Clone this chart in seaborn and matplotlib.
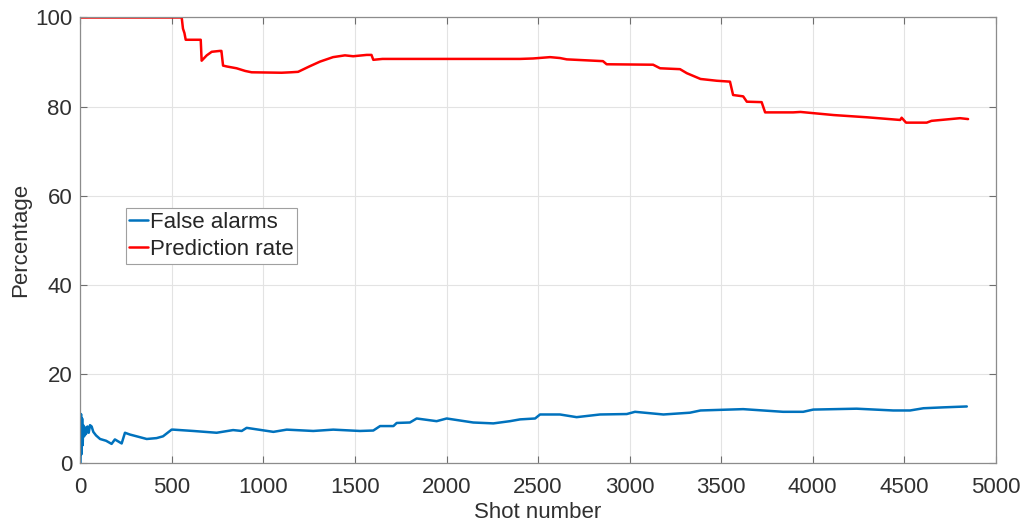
import matplotlib
matplotlib.use("Agg")
import matplotlib.pyplot as plt
import seaborn as sns
import pandas as pd

# Prediction rate (red)
pred_shot = [0, 553, 560, 568, 575, 657, 662, 690, 717, 762, 770, 779, 800, 853, 900, 935,
             1099, 1150, 1189, 1250, 1309, 1380, 1445, 1490, 1564, 1590, 1600, 1650, 2402,
             2473, 2566, 2620, 2657, 2855, 2875, 3129, 3167, 3276, 3313, 3388, 3477, 3549,
             3566, 3621, 3641, 3722, 3741, 3894, 3934, 4116, 4298, 4479, 4487, 4511, 4624,
             4650, 4806, 4850]
pred_rate = [100, 100, 97.5, 96.5, 95, 95, 90.3, 91.5, 92.3, 92.5, 92.5, 89.2, 89.0, 88.6, 88.0, 87.7,
             87.6, 87.7, 87.8, 89.0, 90.1, 91.1, 91.5, 91.3, 91.6, 91.6, 90.5, 90.7, 90.7,
             90.8, 91.1, 90.9, 90.6, 90.2, 89.5, 89.4, 88.6, 88.4, 87.5, 86.2, 85.8, 85.6,
             82.6, 82.3, 81.1, 81.0, 78.7, 78.7, 78.8, 78.1, 77.6, 77.0, 77.5, 76.4, 76.4,
             76.8, 77.4, 77.2]

# False alarms (blue)
fa_shot = [0, 3, 6, 9, 12, 15, 20, 25, 30, 38, 45, 52, 61, 70, 85, 107, 140, 170, 188, 225,
           243, 270, 362, 416, 451, 498, 507, 616, 744, 834, 881, 908, 1054, 1127, 1272,
           1381, 1527, 1600, 1637, 1710, 1728, 1800, 1837, 1946, 2001, 2146, 2256, 2347,
           2402, 2484, 2511, 2620, 2711, 2839, 2985, 3030, 3185, 3330, 3388, 3621, 3839,
           3949, 4004, 4241, 4441, 4533, 4606, 4715, 4843]
fa_rate = [0, 11, 2, 10, 4, 8.5, 6, 8, 6.5, 8.2, 6.8, 8.5, 8.2, 7, 6.2, 5.4, 5, 4.3, 5.3, 4.4,
           6.8, 6.4, 5.4, 5.6, 6.0, 7.5, 7.5, 7.2, 6.8, 7.4, 7.2, 7.9, 7.0, 7.5, 7.2,
           7.5, 7.2, 7.3, 8.3, 8.3, 9.0, 9.1, 10.0, 9.4, 10.0, 9.1, 8.9, 9.4,
           9.8, 10.0, 10.9, 10.9, 10.3, 10.9, 11.0, 11.5, 10.9, 11.3, 11.8, 12.1, 11.5,
           11.5, 12.0, 12.2, 11.8, 11.8, 12.3, 12.5, 12.7]

x_ticks = [0, 500, 1000, 1500, 2000, 2500, 3000, 3500, 4000, 4500, 5000]
y_ticks = [0, 20, 40, 60, 80, 100]

sns.set_style("white")
plt.rcParams['font.family'] = ['Liberation Sans', 'DejaVu Sans']

fig = plt.figure(figsize=(10.24, 5.25), dpi=100)
ax = fig.add_axes([0.0786, 0.118, 0.8936, 0.8487])

df_fa = pd.DataFrame({"shot": fa_shot, "rate": fa_rate})
df_pr = pd.DataFrame({"shot": pred_shot, "rate": pred_rate})

sns.lineplot(data=df_fa, x="shot", y="rate", estimator=None, sort=False,
             color="#0072BD", lw=1.8, label="False alarms", ax=ax)
sns.lineplot(data=df_pr, x="shot", y="rate", estimator=None, sort=False,
             color="#FF0000", lw=1.8, label="Prediction rate", ax=ax)

ax.set_xlim(0, 5000)
ax.set_ylim(0, 100)
ax.set_xticks(x_ticks)
ax.set_yticks(y_ticks)
ax.grid(True, color="#E3E3E3", lw=0.8)
ax.set_axisbelow(True)
for s in ax.spines.values():
    s.set_visible(True)
    s.set_color("#8C8C8C")
    s.set_linewidth(0.9)
ax.tick_params(direction="in", length=5, width=0.8, color="#6E6E6E",
               top=True, right=True, bottom=True, left=True,
               labelsize=16, labelcolor="#303030")
ax.tick_params(axis="x", pad=10)
ax.tick_params(axis="y", pad=6)
ax.set_xlabel("Shot number", fontsize=16, color="#303030", labelpad=3)
ax.set_ylabel("Percentage", fontsize=16, color="#303030", labelpad=3)

leg = ax.legend(loc="upper left", bbox_to_anchor=(0.0497, 0.572), borderaxespad=0,
                fontsize=16, handlelength=0.85, handletextpad=0.1,
                labelspacing=0.3, borderpad=0.15, fancybox=False, framealpha=1)
leg.get_frame().set_edgecolor("#A0A0A0")
leg.get_frame().set_linewidth(0.8)
for t in leg.get_texts():
    t.set_color("#262626")

fig.savefig("out.png", dpi=100)
